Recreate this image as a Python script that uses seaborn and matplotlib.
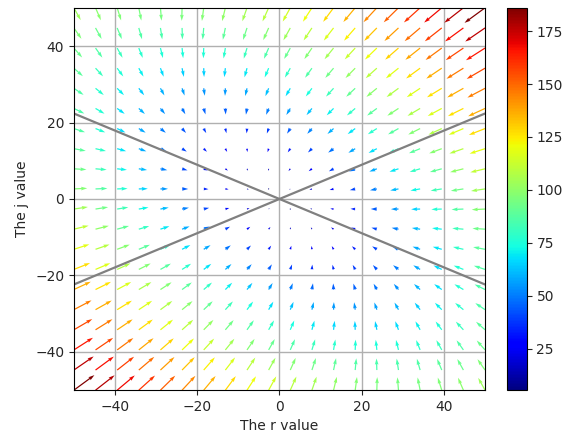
import numpy as np
import matplotlib
matplotlib.use('Agg')
import matplotlib.pyplot as plt
import seaborn as sns

# Romeo & Juliet linear love model: dr/dt = a*r + b*j, dj/dt = c*r + d*j
a, b, c, d = -2.0, -1.0, -0.2, -2.0
n_points = 20
lim = 50

r_values = np.linspace(-lim, lim, n_points)
j_values = np.linspace(-lim, lim, n_points)
R, J = np.meshgrid(r_values, j_values)
dR = a * R + b * J
dJ = c * R + d * J
speed = np.hypot(dR, dJ)

# eigenvector directions (j = +/- sqrt(c/b) * r)
k = np.sqrt(c / b)
line_r = np.array([-lim, lim])

sns.set_style('white')
fig = plt.figure(figsize=(5.64, 4.34), dpi=100)
ax = fig.add_axes([0.131, 0.101, 0.729, 0.881])
cax = fig.add_axes([0.899, 0.101, 0.035, 0.881])

q = ax.quiver(R, J, dR, dJ, speed, cmap='jet')
sns.lineplot(x=line_r, y=k * line_r, color='grey', lw=1.6, ax=ax)
sns.lineplot(x=line_r, y=-k * line_r, color='grey', lw=1.6, ax=ax)

ax.set_xlim(-lim, lim)
ax.set_ylim(-lim, lim)
ax.grid(True, color='#b0b0b0', lw=1.0)
for s in ax.spines.values():
    s.set_color('black')
ax.tick_params(direction='out', length=3.5, left=True, bottom=True)
ax.set_xlabel('The r value')
ax.set_ylabel('The j value')

cb = fig.colorbar(q, cax=cax)
cb.outline.set_edgecolor('black')
cax.tick_params(direction='out', length=3.5, right=True)

fig.savefig('out.png', dpi=100)
